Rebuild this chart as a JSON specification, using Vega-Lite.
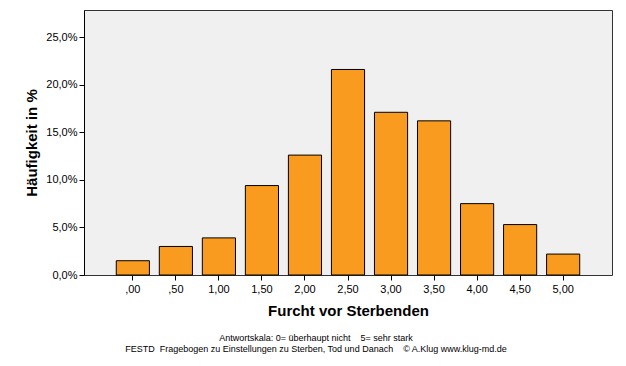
{
  "$schema": "https://vega.github.io/schema/vega-lite/v6.json",
  "width": 528,
  "height": 265,
  "autosize": {"type": "none"},
  "padding": {"left": 84, "top": 10, "right": 14, "bottom": 91},
  "background": "white",
  "data": {"values": [
    {"label": ",00", "pct": 1.5},
    {"label": ",50", "pct": 3.0},
    {"label": "1,00", "pct": 3.9},
    {"label": "1,50", "pct": 9.4},
    {"label": "2,00", "pct": 12.6},
    {"label": "2,50", "pct": 21.6},
    {"label": "3,00", "pct": 17.1},
    {"label": "3,50", "pct": 16.2},
    {"label": "4,00", "pct": 7.5},
    {"label": "4,50", "pct": 5.3},
    {"label": "5,00", "pct": 2.2}
  ]},
  "title": {
    "text": ["Antwortskala: 0= überhaupt nicht\u00a0\u00a0\u00a0\u00a05= sehr stark", "FESTD\u00a0\u00a0Fragebogen zu Einstellungen zu Sterben, Tod und Danach\u00a0\u00a0\u00a0\u00a0© A.Klug www.klug-md.de"],
    "orient": "bottom",
    "anchor": "middle",
    "dx": -32,
    "offset": 16,
    "font": "Liberation Sans",
    "fontSize": 9,
    "fontWeight": "normal",
    "lineHeight": 11,
    "color": "black"
  },
  "mark": {"type": "bar", "color": "#F99B1E", "stroke": "black", "strokeWidth": 1},
  "encoding": {
    "x": {
      "field": "label", "type": "nominal", "sort": null,
      "scale": {"paddingInner": 0.23, "paddingOuter": 0.75},
      "axis": {
        "title": "Furcht vor Sterbenden",
        "titleFont": "Liberation Sans", "titleFontSize": 15, "titleFontWeight": "bold",
        "titleColor": "black", "titlePadding": 9,
        "labelFont": "Liberation Sans", "labelFontSize": 11, "labelColor": "black",
        "labelAngle": 0, "labelPadding": 3,
        "domain": false, "tickColor": "black", "tickSize": 5
      }
    },
    "y": {
      "field": "pct", "type": "quantitative",
      "scale": {"domain": [0, 27.85], "nice": false},
      "axis": {
        "title": "Häufigkeit in %",
        "titleFont": "Liberation Sans", "titleFontSize": 15, "titleFontWeight": "bold",
        "titleColor": "black", "titlePadding": 6,
        "labelFont": "Liberation Sans", "labelFontSize": 11, "labelColor": "black",
        "values": [0, 5, 10, 15, 20, 25],
        "labelExpr": "replace(format(datum.value, '.1f'), '.', ',') + '%'",
        "grid": false, "domainColor": "black", "tickColor": "black", "tickSize": 5
      }
    }
  },
  "config": {
    "view": {"fill": "#F0F0F0", "stroke": "#333333", "strokeWidth": 1}
  }
}
